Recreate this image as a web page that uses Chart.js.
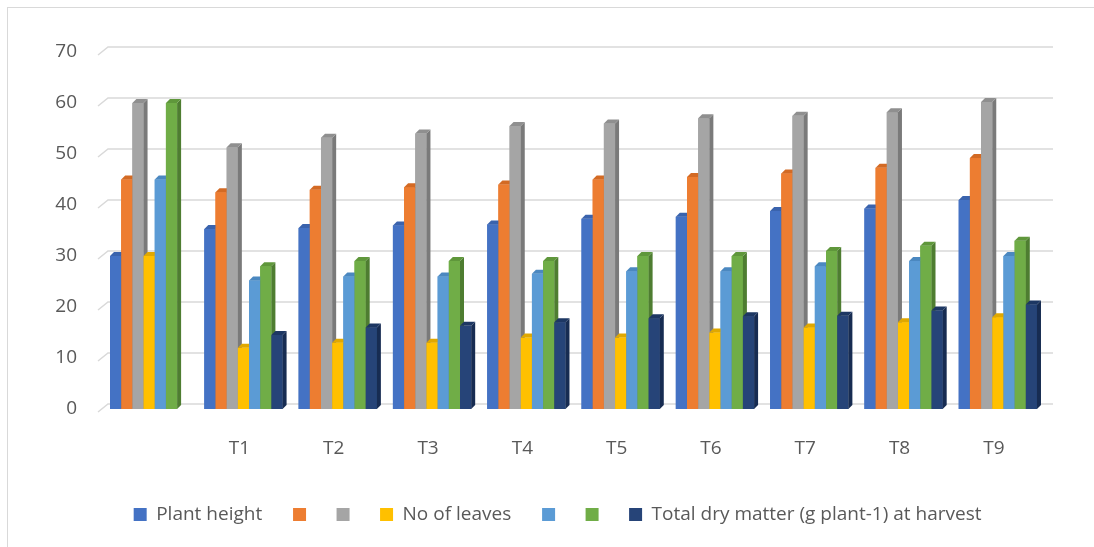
<!DOCTYPE html>
<html>
<head>
<meta charset="utf-8">
<script src="https://cdn.jsdelivr.net/npm/chart.js@4"></script>
<style>
  html, body { margin: 0; padding: 0; background: #fff; }
  #wrap { position: relative; width: 1094px; height: 547px; overflow: hidden; }
  #frame { position: absolute; left: 7px; top: 7px; width: 1100px; height: 560px; border: 1px solid #d9d9d9; box-sizing: border-box; }
  canvas { position: absolute; left: 0; top: 0; }
</style>
</head>
<body>
<div id="wrap">
  <div id="frame"></div>
  <canvas id="chart" width="1094" height="547"></canvas>
</div>
<script>
const categories = ['', 'T1', 'T2', 'T3', 'T4', 'T5', 'T6', 'T7', 'T8', 'T9'];
const yTicks = [0, 10, 20, 30, 40, 50, 60, 70];

const seriesNames = ['Plant height', '', '', 'No of leaves', '', '', 'Total dry matter (g plant-1) at harvest'];
const plantHeight = [30, 35.3, 35.5, 36, 36.2, 37.3, 37.7, 38.8, 39.3, 41];
const seriesOrange = [45, 42.5, 43, 43.5, 44, 45, 45.5, 46.2, 47.3, 49.2];
const seriesGray = [60, 51.3, 53.2, 54, 55.5, 56, 57, 57.5, 58.2, 60.2];
const noOfLeaves = [30, 12, 13, 13, 14, 14, 15, 16, 17, 18];
const seriesLightBlue = [45, 25.2, 26, 26, 26.5, 27, 27, 28, 29, 30];
const seriesGreen = [60, 28, 29, 29, 29, 30, 30, 31, 32, 33];
const totalDryMatter = [null, 14.5, 16, 16.3, 17, 17.8, 18.2, 18.3, 19.3, 20.5];

const colors = ['#4472C4', '#ED7D31', '#A5A5A5', '#FFC000', '#5B9BD5', '#70AD47', '#264478'];
const sideColors = ['#2f5597', '#b55a1b', '#7a7a7a', '#c09000', '#3a78b0', '#4e7d31', '#172c52'];
const topColors = ['#3a63ad', '#d36a24', '#8f8f8f', '#e0a800', '#4b88c0', '#5f973b', '#1d3763'];

const allSeries = [plantHeight, seriesOrange, seriesGray, noOfLeaves, seriesLightBlue, seriesGreen, totalDryMatter];

const FONT = "'Open Sans', 'Noto Sans', sans-serif";
const TEXT = '#595959';

// back-wall gridlines with the little slanted floor edge
const wallGrid = {
  id: 'wallGrid',
  beforeDatasetsDraw(chart) {
    const { ctx, chartArea, scales } = chart;
    const y = scales.y;
    ctx.save();
    ctx.strokeStyle = '#d9d9d9';
    ctx.lineWidth = 1.5;
    y.ticks.forEach(t => {
      const py = y.getPixelForValue(t.value);
      ctx.beginPath();
      ctx.moveTo(chartArea.left - 4, py + 3);
      ctx.lineTo(chartArea.left + 6, py - 5);
      ctx.lineTo(chartArea.right + 8, py - 5);
      ctx.stroke();
    });
    ctx.restore();
  }
};

// redraw bars with a side face and top cap, in series order per category
const bars3d = {
  id: 'bars3d',
  afterDatasetsDraw(chart) {
    const { ctx } = chart;
    const d = 4;
    ctx.save();
    for (let i = 0; i < categories.length; i++) {
      chart.data.datasets.forEach((ds, di) => {
        const el = chart.getDatasetMeta(di).data[i];
        if (!el || ds.data[i] == null) return;
        const { x, y, base, width } = el.getProps(['x', 'y', 'base', 'width'], true);
        const l = x - width / 2, r = x + width / 2;
        ctx.fillStyle = colors[di];
        ctx.fillRect(l, y, width, base - y);
        ctx.fillStyle = sideColors[di];
        ctx.beginPath();
        ctx.moveTo(r, y); ctx.lineTo(r + d, y - d); ctx.lineTo(r + d, base - d); ctx.lineTo(r, base);
        ctx.closePath(); ctx.fill();
        ctx.fillStyle = topColors[di];
        ctx.beginPath();
        ctx.moveTo(l, y); ctx.lineTo(l + d, y - d); ctx.lineTo(r + d, y - d); ctx.lineTo(r, y);
        ctx.closePath(); ctx.fill();
      });
    }
    ctx.restore();
  }
};

// legend sits a bit right of the canvas centre in the original
const legendShift = {
  id: 'legendShift',
  afterLayout(chart) {
    chart.legend.left += 40;
    chart.legend.right += 40;
  }
};

new Chart(document.getElementById('chart'), {
  type: 'bar',
  data: {
    labels: categories,
    datasets: allSeries.map((data, i) => ({
      label: seriesNames[i],
      data: data,
      backgroundColor: colors[i],
      borderWidth: 0,
      barPercentage: 1,
      categoryPercentage: 0.83
    }))
  },
  options: {
    responsive: false,
    animation: false,
    layout: { padding: { left: 0, right: 49, top: 52, bottom: 13 } },
    plugins: {
      legend: {
        position: 'bottom',
        labels: {
          color: TEXT,
          font: { family: FONT, size: 19 },
          boxWidth: 13,
          boxHeight: 13,
          padding: 21,
          generateLabels(chart) {
            const items = Chart.defaults.plugins.legend.labels.generateLabels(chart);
            items.forEach(it => { if (it.text) it.text += '  '; });
            return items;
          }
        }
      },
      tooltip: { enabled: false }
    },
    scales: {
      x: {
        grid: { display: false, drawTicks: false },
        border: { display: false },
        ticks: { color: TEXT, font: { family: FONT, size: 19 }, padding: 28, labelOffset: -4 },
        afterFit(s) { s.height = 75; }
      },
      y: {
        min: 0,
        max: 70,
        afterBuildTicks(s) { s.ticks = yTicks.map(v => ({ value: v })); },
        grid: { display: false, drawTicks: false },
        border: { display: false },
        ticks: { color: TEXT, font: { family: FONT, size: 19 }, padding: 25 },
        afterFit(s) { s.width = 102; }
      }
    }
  },
  plugins: [wallGrid, bars3d, legendShift]
});
</script>
</body>
</html>
